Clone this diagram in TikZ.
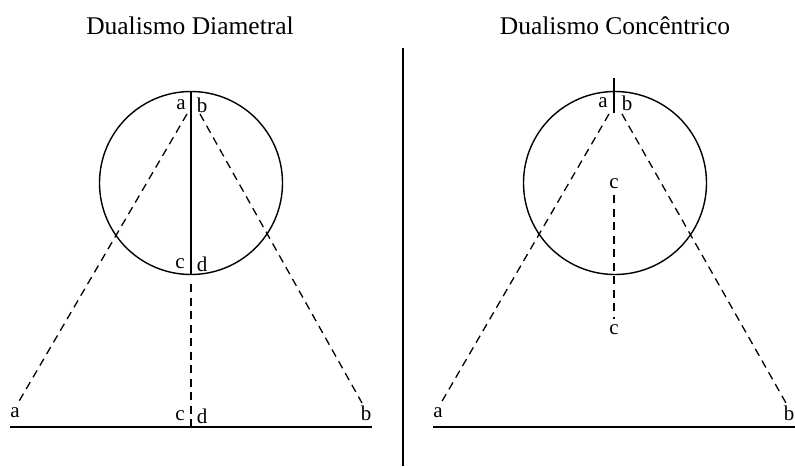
\documentclass[tikz,border=0pt]{standalone}
\usepackage{fontspec}
\setmainfont{Liberation Serif}
\begin{document}
\begin{tikzpicture}[x=1pt,y=-1pt,
  solidline/.style={line width=1.4pt},
  dashline/.style={line width=1.3pt, dash pattern=on 8pt off 5.5pt},
  lbl/.style={inner sep=0pt, font=\fontsize{21}{21}\selectfont},
  ttl/.style={inner sep=0pt, font=\fontsize{25.5}{25.5}\selectfont}]
\useasboundingbox (0,0) rectangle (795,466);
% titles
\node[ttl] (t1) at (190,26) {Dualismo Diametral};
\node[ttl] (t2) at (615,26) {Dualismo Concêntrico};
% separator
\coordinate (s1) at (403,48);
\coordinate (s2) at (403,466);
\draw[line width=1.3pt] (s1) -- (s2);
% ---------- left
\node[circle, draw, line width=1.4pt, minimum size=183pt, inner sep=0pt] (C1) at (191,183) {};
\draw[solidline] (C1.north) -- (C1.south);
\node[lbl] (la) at (181,105) {a};
\node[lbl] (lb) at (202,105) {b};
\node[lbl] (lc) at (180,264) {c};
\node[lbl] (ld) at (202,264) {d};
\coordinate (base1L) at (10,427);
\coordinate (base1R) at (372,427);
\draw[solidline] (base1L) -- (base1R);
\node[lbl] (ba) at (15,413) {a};
\node[lbl] (bc) at (180,416) {c};
\node[lbl] (bd) at (202,416) {d};
\node[lbl] (bb) at (366,413) {b};
\coordinate (pa1) at (187,114);
\coordinate (qa1) at (18,403);
\coordinate (pb1) at (200,114);
\coordinate (qb1) at (362,403);
\draw[dashline] (pa1) -- (qa1);
\draw[dashline] (pb1) -- (qb1);
\coordinate (pc1) at (191,284);
\coordinate (qc1) at (191,426);
\draw[dashline] (pc1) -- (qc1);
% ---------- right
\node[circle, draw, line width=1.4pt, minimum size=183pt, inner sep=0pt] (C2) at (615,183) {};
\coordinate (v1) at (614,78);
\coordinate (v2) at (614,113);
\draw[solidline] (v1) -- (v2);
\node[lbl] (ra) at (603,103) {a};
\node[lbl] (rb) at (627,103) {b};
\coordinate (base2L) at (433,427);
\coordinate (base2R) at (795,427);
\draw[solidline] (base2L) -- (base2R);
\node[lbl] (rba) at (438,413) {a};
\node[lbl] (rbb) at (789,413) {b};
\coordinate (pa2) at (609,114);
\coordinate (qa2) at (441,403);
\coordinate (pb2) at (622,114);
\coordinate (qb2) at (786,403);
\draw[dashline] (pa2) -- (qa2);
\draw[dashline] (pb2) -- (qb2);
\node[lbl] (rc1) at (614,184) {c};
\node[lbl] (rc2) at (614,330) {c};
\draw[dashline] ([yshift=-6pt]rc1.south) -- ([yshift=6pt]rc2.north);
\end{tikzpicture}
\end{document}
